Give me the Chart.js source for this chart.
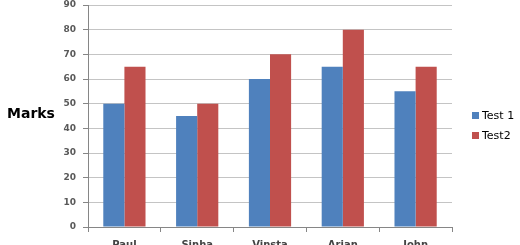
<!DOCTYPE html>
<html>
<head>
<meta charset="utf-8">
<script src="https://cdn.jsdelivr.net/npm/chart.js@4/dist/chart.umd.min.js"></script>
<style>
  html, body { margin: 0; padding: 0; background: #fff; }
  #wrap { width: 520px; height: 245px; overflow: hidden; }
</style>
</head>
<body>
<div id="wrap"><canvas id="marksChart" width="520" height="245"></canvas></div>
<script>
const students = ["Paul", "Sinha", "Vinsta", "Arjan", "John"];
const test1 = [50, 45, 60, 65, 55];
const test2 = [65, 50, 70, 80, 65];
const seriesNames = ["Test 1", "Test2"];
const seriesColors = ["#4F81BD", "#C0504D"];
const axisTitle = "Marks";

// draws the horizontal "Marks" title and the right-hand legend
const sideText = {
    id: "sideText",
    afterDraw(chart) {
        const ctx = chart.ctx;
        const area = chart.chartArea;
        ctx.save();
        ctx.fillStyle = "#000";
        ctx.font = "bold 14px 'DejaVu Sans'";
        ctx.textBaseline = "middle";
        ctx.textAlign = "left";
        ctx.fillText(axisTitle, 7, 114);

        ctx.font = "11px 'DejaVu Sans'";
        chart.data.datasets.forEach((ds, i) => {
            const y = 115 + i * 20;
            ctx.fillStyle = ds.backgroundColor;
            ctx.fillRect(area.right + 20, y - 3, 7, 7);
            ctx.fillStyle = "#000";
            ctx.fillText(ds.label, area.right + 30, y + 1);
        });
        ctx.restore();
    }
};

new Chart(document.getElementById("marksChart"), {
    type: "bar",
    data: {
        labels: students,
        datasets: [
            { label: seriesNames[0], data: test1, backgroundColor: seriesColors[0] },
            { label: seriesNames[1], data: test2, backgroundColor: seriesColors[1] }
        ]
    },
    options: {
        responsive: false,
        animation: false,
        categoryPercentage: 0.58,
        barPercentage: 1.0,
        layout: { padding: { left: 58, right: 68, top: 5, bottom: 0 } },
        plugins: {
            legend: { display: false },
            tooltip: { enabled: false }
        },
        scales: {
            x: {
                grid: { display: true, drawOnChartArea: false, tickLength: 5, color: "#868686" },
                border: { color: "#868686" },
                ticks: { color: "#444", padding: 7, font: { family: "DejaVu Sans", size: 10, weight: "bold" } },
                afterFit(scale) { scale.height = 18; }
            },
            y: {
                min: 0,
                max: 90,
                ticks: { stepSize: 10, color: "#595959", padding: 7, font: { family: "DejaVu Sans", size: 9, weight: "bold" } },
                grid: { color: "#c4c4c4", tickColor: "#868686", tickLength: 5 },
                border: { color: "#868686" },
                afterFit(scale) {
                    scale.width = 30;
                    scale.paddingTop = 0;
                    scale.paddingBottom = 0;
                }
            }
        }
    },
    plugins: [sideText]
});
</script>
</body>
</html>
